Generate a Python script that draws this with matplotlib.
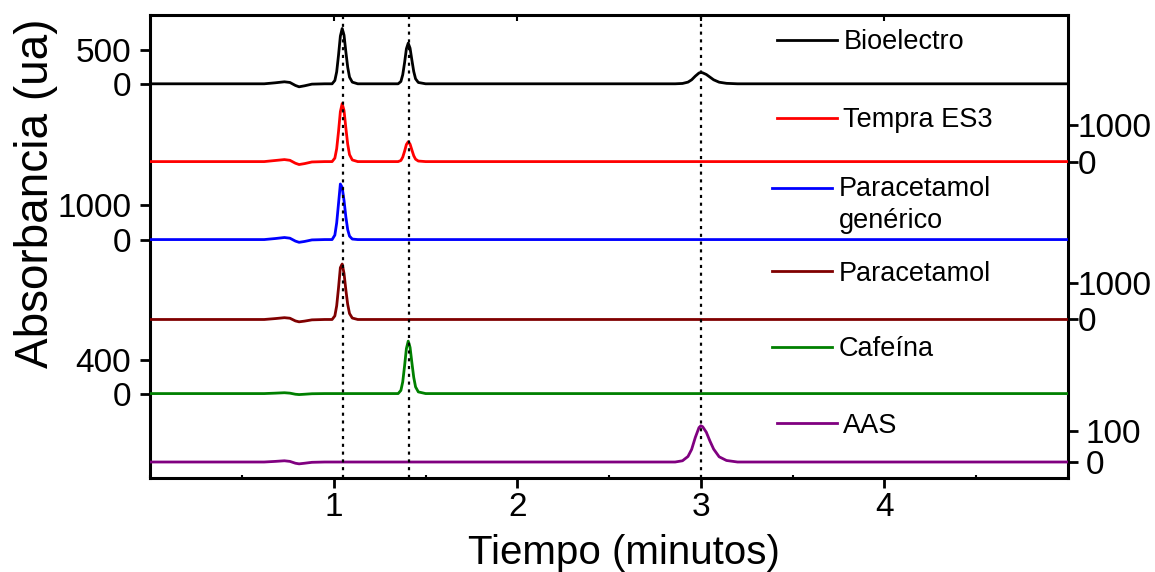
import matplotlib

matplotlib.use("Agg")

import matplotlib.pyplot as plt
from matplotlib.ticker import MultipleLocator

plt.rcParams["font.family"] = ["Liberation Sans", "DejaVu Sans"]

# retention time grid (minutes)
TIME = [0.00, 0.62, 0.68, 0.73, 0.76, 0.79, 0.81, 0.84, 0.88, 0.95,
        0.99, 1.005, 1.015, 1.025, 1.035, 1.045, 1.055, 1.065, 1.075, 1.085, 1.10, 1.13,
        1.35, 1.365, 1.375, 1.385, 1.395, 1.405, 1.415, 1.425, 1.435, 1.445, 1.46, 1.50,
        2.86, 2.90, 2.93, 2.95, 2.97, 2.99, 3.00, 3.01, 3.03, 3.05, 3.07, 3.10, 3.14, 3.20,
        5.00]

BIOELECTRO = [0, 0, 15, 30, 20, -25, -45, -30, -5, 0,
              0, 50, 180, 430, 715, 830, 730, 480, 250, 100, 25, 0,
              0, 35, 135, 315, 525, 610, 535, 355, 185, 75, 20, 0,
              0, 5, 25, 60, 115, 162, 170, 165, 140, 100, 60, 24, 7, 0,
              0]
TEMPRA = [0, 0, 30, 55, 35, -45, -80, -55, -10, 0,
          0, 95, 350, 820, 1360, 1580, 1390, 915, 475, 190, 45, 0,
          0, 30, 120, 280, 465, 540, 475, 315, 160, 65, 15, 0,
          0, 0, 0, 0, 0, 0, 0, 0, 0, 0, 0, 0, 0, 0,
          0]
GENERICO = [0, 0, 30, 60, 40, -45, -80, -55, -10, 0,
            0, 130, 485, 1050, 1620, 1520, 1140, 660, 290, 100, 15, 0,
            0, 0, 0, 0, 0, 0, 0, 0, 0, 0, 0, 0,
            0, 0, 0, 0, 0, 0, 0, 0, 0, 0, 0, 0, 0, 0,
            0]
PARACETAMOL = [0, 0, 25, 50, 35, -40, -65, -45, -10, 0,
               0, 100, 380, 880, 1440, 1540, 1280, 820, 420, 165, 40, 0,
               0, 0, 0, 0, 0, 0, 0, 0, 0, 0, 0, 0,
               0, 0, 0, 0, 0, 0, 0, 0, 0, 0, 0, 0, 0, 0,
               0]
CAFEINA = [0, 0, 5, 10, 5, -8, -12, -8, -2, 0,
           0, 0, 0, 0, 0, 0, 0, 0, 0, 0, 0, 0,
           0, 38, 140, 330, 540, 630, 555, 370, 195, 80, 20, 0,
           0, 0, 0, 0, 0, 0, 0, 0, 0, 0, 0, 0, 0, 0,
           0]
AAS = [0, 0, 2, 4, 2, -4, -6, -4, -1, 0,
       0, 0, 0, 0, 0, 0, 0, 0, 0, 0, 0, 0,
       0, 0, 0, 0, 0, 0, 0, 0, 0, 0, 0, 0,
       0, 4, 18, 41, 80, 112, 118, 115, 97, 68, 42, 17, 5, 0,
       0]

PEAK_TIMES = [1.047, 1.41, 3.0]

LABELS = ["Bioelectro", "Tempra ES3", "Paracetamol\ngenérico", "Paracetamol", "Cafeína", "AAS"]
SERIES = [BIOELECTRO, TEMPRA, GENERICO, PARACETAMOL, CAFEINA, AAS]
Y_TICKS = [[0, 500], [0, 1000], [0, 1000], [0, 1000], [0, 400], [0, 100]]
TICK_SIDE = ["left", "right", "left", "right", "left", "right"]

COLORS = ["#000000", "#ff0000", "#0000ff", "#800000", "#008000", "#800080"]
# where each trace's zero sits (axes fraction) and how many units the full height spans
BASELINE = [0.852, 0.684, 0.5156, 0.343, 0.183, 0.0352]
SPAN = [6950, 12616, 13500, 12861, 5561, 1508]
LEGEND_POS = [(0.683, 0.942), (0.683, 0.773), (0.678, 0.590),
              (0.678, 0.442), (0.678, 0.279), (0.683, 0.114)]
RIGHT_PAD = [None, 0, None, 0, None, 6]


def build_figure() -> plt.Figure:
    fig = plt.figure(figsize=(11.55, 5.72), dpi=100)
    ax = fig.add_axes([0.1303, 0.1638, 0.7941, 0.8095])
    ax.set_xlim(0, 5)
    ax.set_ylim(0, 1)
    ax.set_yticks([])
    ax.xaxis.set_minor_locator(MultipleLocator(0.5))
    ax.set_xticks([1, 2, 3, 4])
    ax.tick_params(axis="x", which="major", direction="out", length=7, width=2,
                   labelsize=24, pad=3, top=False)
    ax.tick_params(axis="x", which="minor", direction="in", length=2.5, width=1.5)
    for spine in ax.spines.values():
        spine.set_linewidth(2.2)
    ax.set_xlabel("Tiempo (minutos)", fontsize=29)
    ax.set_ylabel("Absorbancia (ua)", fontsize=33)
    ax.xaxis.set_label_coords(0.516, -0.121)
    ax.yaxis.set_label_coords(-0.101, 0.6156)

    top = ax.secondary_xaxis("top")
    top.set_xticks([1, 2, 3, 4])
    top.tick_params(direction="in", length=4, width=1.5, labeltop=False)
    top.spines["top"].set_visible(False)

    twin = None
    for i, values in enumerate(SERIES):
        twin = ax.twinx()
        for spine in twin.spines.values():
            spine.set_visible(False)
        low = -BASELINE[i] * SPAN[i]
        twin.set_ylim(low, low + SPAN[i])
        twin.plot(TIME, values, color=COLORS[i], linewidth=2.0,
                  label=LABELS[i], solid_joinstyle="round")
        twin.set_yticks(Y_TICKS[i])
        if TICK_SIDE[i] == "left":
            twin.yaxis.tick_left()
            pad = 7
        else:
            twin.yaxis.tick_right()
            pad = RIGHT_PAD[i]
        twin.tick_params(axis="y", direction="out", length=7, width=2,
                         labelsize=24, pad=pad)
        leg = twin.legend(loc="center left", bbox_to_anchor=LEGEND_POS[i],
                          bbox_transform=ax.transAxes, frameon=False, fontsize=19.5,
                          handlelength=2.2, handletextpad=0.25, borderpad=0,
                          borderaxespad=0)
        if "\n" in LABELS[i]:
            # keep the handle level with the first line of a two-line label
            for text in leg.get_texts():
                text.set_linespacing(1.3)
            handle = leg.legend_handles[0]
            handle.set_ydata([y + 13 for y in handle.get_ydata()])

    for t in PEAK_TIMES:
        twin.axvline(t, color="black", linewidth=1.6, linestyle=(0, (1.4, 2.1)))

    return fig


def main() -> None:
    fig = build_figure()
    fig.savefig("out.png", dpi=100)
    plt.close(fig)


if __name__ == "__main__":
    main()
